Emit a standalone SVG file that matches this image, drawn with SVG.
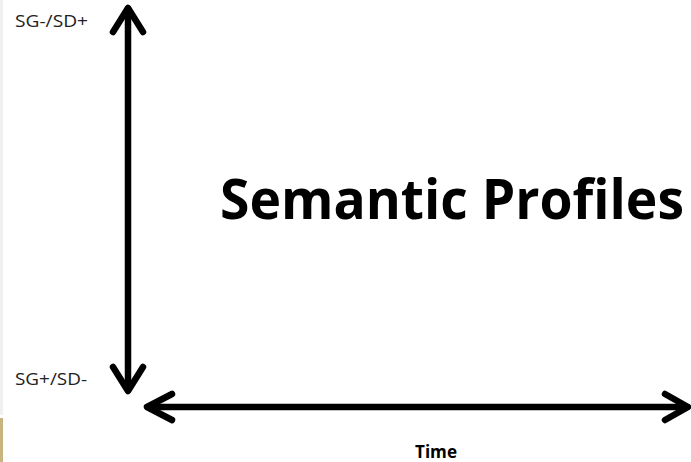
<svg xmlns="http://www.w3.org/2000/svg" width="691" height="462" viewBox="0 0 691 462">
<style>
.ax{fill:none;stroke:#000;stroke-width:6.5;stroke-linecap:round;stroke-linejoin:round}
.lbl{font-family:"Open Sans","Liberation Sans",sans-serif;font-size:16.5px;fill:#222}
.ttl{font-family:"Open Sans","Liberation Sans",sans-serif;font-weight:bold;fill:#000}
</style>
<rect width="691" height="462" fill="#fff"/>
<rect x="0" y="0" width="3" height="415" fill="#f0f0f0"/>
<rect x="0" y="418" width="3" height="44" fill="#c8b47f"/>
<g id="connectors">
<g id="y-axis">
<path class="ax" d="M128,9 V389"/>
<path class="ax" d="M113,32 L128,8 L143,32"/>
<path class="ax" d="M113,367 L128,391 L143,367"/>
</g>
<g id="x-axis">
<path class="ax" d="M148,407 H687"/>
<path class="ax" d="M172,394 L147,407 L172,420"/>
<path class="ax" d="M665,394 L688,407 L665,420"/>
</g>
</g>
<g id="label-top"><text class="lbl" x="15" y="27" textLength="73" lengthAdjust="spacingAndGlyphs">SG-/SD+</text></g>
<g id="label-bottom"><text class="lbl" x="15" y="385" textLength="72" lengthAdjust="spacingAndGlyphs">SG+/SD-</text></g>
<g id="title" transform="translate(220,219) scale(1,1.077)"><text class="ttl" x="0" y="0" font-size="52" textLength="464" lengthAdjust="spacingAndGlyphs">Semantic Profiles</text></g>
<g id="label-time"><text class="ttl" x="415" y="458" font-size="17" textLength="42" lengthAdjust="spacingAndGlyphs">Time</text></g>
</svg>
